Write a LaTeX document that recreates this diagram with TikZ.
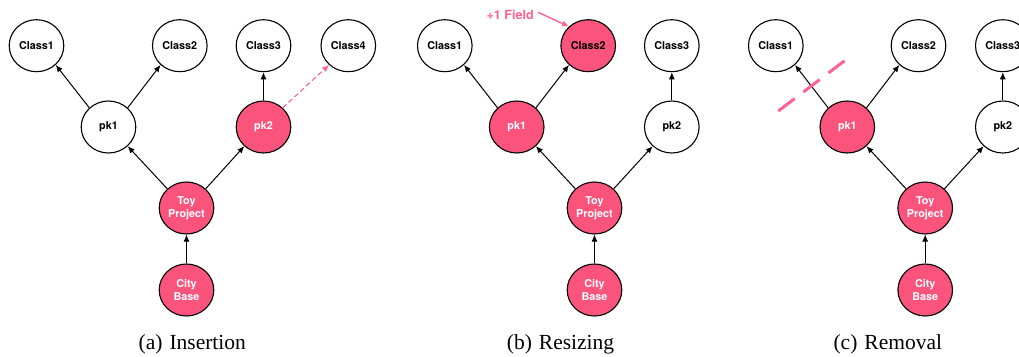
\documentclass[tikz,border=0pt]{standalone}
\usepackage{fontspec}
\setsansfont{TeX Gyre Heros}
\newfontfamily\capfont{Liberation Serif}
\usetikzlibrary{shapes.geometric,arrows.meta}
\definecolor{hotpink}{RGB}{250,84,125}
\definecolor{notepink}{RGB}{255,98,140}
\tikzset{
  nd/.style={ellipse, draw, line width=1.1pt, minimum width=54.6pt,
    minimum height=52pt, inner sep=0pt, align=center,
    font=\sffamily\bfseries\fontsize{10.8}{12.5}\selectfont},
  hot/.style={nd, fill=hotpink, text=white},
  arr/.style={-{Latex[length=7pt,width=6pt]}, line width=1pt},
  newarr/.style={-{Latex[length=7pt,width=6pt]}, line width=1.1pt,
    draw=notepink, dash pattern=on 5pt off 3pt},
  notearr/.style={-{Latex[length=7pt,width=6pt]}, line width=1.4pt, draw=notepink},
  cutline/.style={draw=notepink, line width=3pt, dash pattern=on 20.5pt off 11pt},
  caption/.style={anchor=base, inner sep=0pt, font=\capfont\fontsize{21.5}{24}\selectfont},
}
\begin{document}
\begin{tikzpicture}[x=1pt, y=-1pt]
\useasboundingbox (0,0) rectangle (1019,356);
\clip (0,0) rectangle (1019,356);

% (a) Insertion
\node[nd]  (a1)  at (36.5,45.7)  {Class1};
\node[nd]  (a2)  at (179.8,45.7) {Class2};
\node[nd]  (a3)  at (263.5,45.7) {Class3};
\node[nd]  (a4)  at (348.3,45.7) {Class4};
\node[nd]  (ap1) at (108.5,127)  {pk1};
\node[hot] (ap2) at (263.5,127)  {pk2};
\node[hot] (at)  at (186.5,208)  {Toy\\Project};
\node[hot] (ac)  at (186.5,290)  {City\\Base};
\draw[arr] (ap1.135) -- (a1.-45);
\draw[arr] (ap1.45)  -- (a2.-135);
\draw[arr] (ap2.90)  -- (a3.-90);
\draw[newarr] (ap2.45) -- (a4.-135);
\draw[arr] (at.135)  -- (ap1.-45);
\draw[arr] (at.45)   -- (ap2.-135);
\draw[arr] (ac.90)   -- (at.-90);
\node[caption] (capa) at (192.3,349) {(a)\hspace{7pt}Insertion};

% (b) Resizing
\node[nd]  (b1)  at (444.8,45.7) {Class1};
\node[hot, text=black] (b2) at (588.2,45.7) {Class2};
\node[nd]  (b3)  at (671.8,45.7) {Class3};
\node[hot] (bp1) at (516.7,127)  {pk1};
\node[nd]  (bp2) at (671.8,127)  {pk2};
\node[hot] (bt)  at (594.5,208)  {Toy\\Project};
\node[hot] (bc)  at (594.5,290)  {City\\Base};
\draw[arr] (bp1.135) -- (b1.-45);
\draw[arr] (bp1.45)  -- (b2.-135);
\draw[arr] (bp2.90)  -- (b3.-90);
\draw[arr] (bt.135)  -- (bp1.-45);
\draw[arr] (bt.45)   -- (bp2.-135);
\draw[arr] (bc.90)   -- (bt.-90);
\node[text=notepink, font=\sffamily\bfseries\fontsize{12.6}{14}\selectfont,
  inner sep=0pt] (field) at (510.2,14.5) {+1 Field};
\draw[notearr] (field.east) ++(4pt,2.2pt) coordinate (fs) (fs) -- (b2.135);
\node[caption] (capb) at (560.5,349) {(b)\hspace{7pt}Resizing};

% (c) Removal
\node[nd]  (c1)  at (775.8,45.7)  {Class1};
\node[nd]  (c2)  at (918.5,45.7)  {Class2};
\node[nd]  (c3)  at (1002.8,45.7) {Class3};
\node[hot] (cp1) at (847.3,127)   {pk1};
\node[nd]  (cp2) at (1002.8,127)  {pk2};
\node[hot] (ct)  at (925.2,208)   {Toy\\Project};
\node[hot] (cc)  at (925.2,290)   {City\\Base};
\draw[arr] (cp1.135) -- (c1.-45);
\draw[arr] (cp1.45)  -- (c2.-135);
\draw[arr] (cp2.90)  -- (c3.-90);
\draw[arr] (ct.135)  -- (cp1.-45);
\draw[arr] (ct.45)   -- (cp2.-135);
\draw[arr] (cc.90)   -- (ct.-90);
\coordinate (cutA) at (778.3,111);
\coordinate (cutB) at (844.5,60.8);
\draw[cutline] (cutA) -- (cutB);
\node[caption] (capc) at (887.8,349) {(c)\hspace{7pt}Removal};
\end{tikzpicture}
\end{document}
